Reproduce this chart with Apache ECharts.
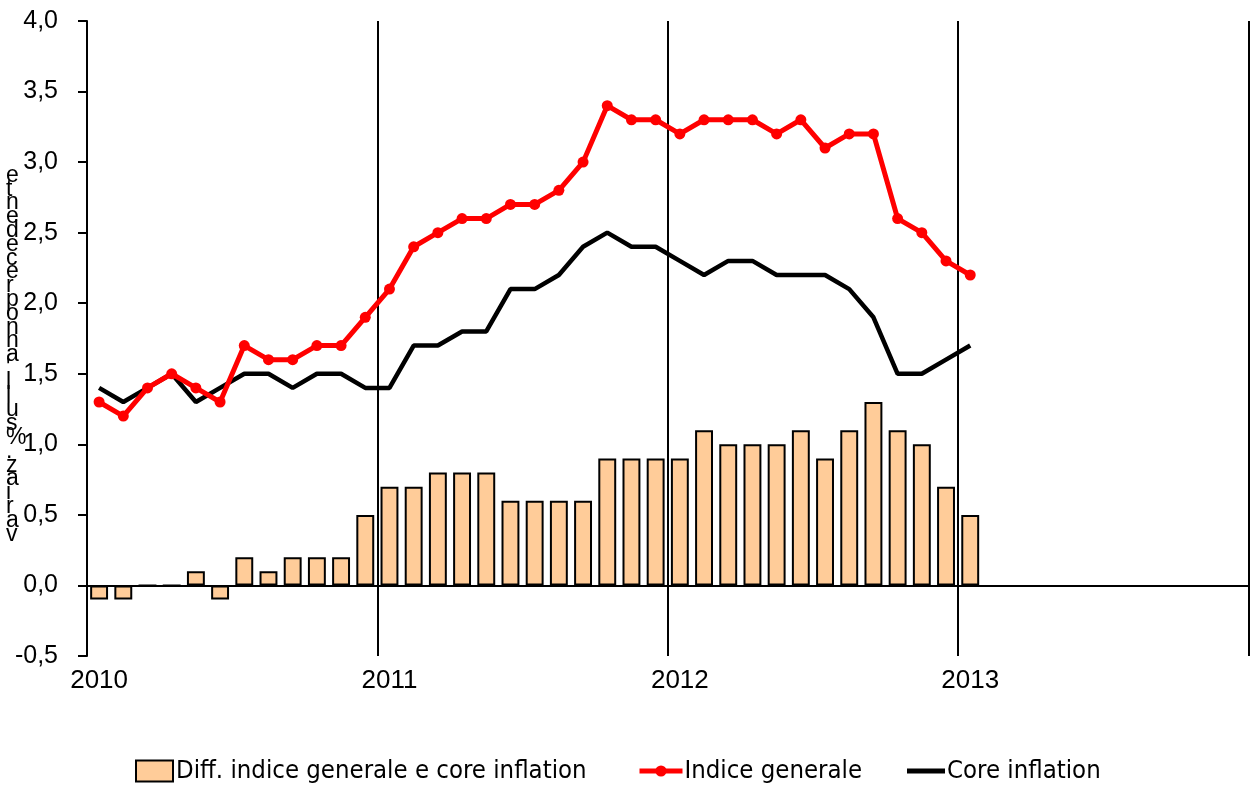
<!DOCTYPE html>
<html>
<head>
<meta charset="utf-8">
<script src="https://cdn.jsdelivr.net/npm/echarts@6/dist/echarts.min.js"></script>
<style>
html,body{margin:0;padding:0;background:#fff;}
#chart{width:1250px;height:787px;}
</style>
</head>
<body>
<div id="chart"></div>
<script>
// ---- data (monthly, Jan 2010 - Jan 2013) ----
const years = ['2010', '2011', '2012', '2013'];
const monthsPerYear = 12;
const indiceGenerale = [1.3, 1.2, 1.4, 1.5, 1.4, 1.3, 1.7, 1.6, 1.6, 1.7, 1.7, 1.9,
                        2.1, 2.4, 2.5, 2.6, 2.6, 2.7, 2.7, 2.8, 3.0, 3.4, 3.3, 3.3,
                        3.2, 3.3, 3.3, 3.3, 3.2, 3.3, 3.1, 3.2, 3.2, 2.6, 2.5, 2.3,
                        2.2];
const coreInflation = [1.4, 1.3, 1.4, 1.5, 1.3, 1.4, 1.5, 1.5, 1.4, 1.5, 1.5, 1.4,
                       1.4, 1.7, 1.7, 1.8, 1.8, 2.1, 2.1, 2.2, 2.4, 2.5, 2.4, 2.4,
                       2.3, 2.2, 2.3, 2.3, 2.2, 2.2, 2.2, 2.1, 1.9, 1.5, 1.5, 1.6,
                       1.7];
const diffValues = [-0.1, -0.1, 0.0, 0.0, 0.1, -0.1, 0.2, 0.1, 0.2, 0.2, 0.2, 0.5,
                    0.7, 0.7, 0.8, 0.8, 0.8, 0.6, 0.6, 0.6, 0.6, 0.9, 0.9, 0.9,
                    0.9, 1.1, 1.0, 1.0, 1.0, 1.1, 0.9, 1.1, 1.3, 1.1, 1.0, 0.7,
                    0.5];
const seriesNames = ['Diff. indice generale e core inflation', 'Indice generale', 'Core inflation'];
const yAxisTitle = "variaz.% sull'anno precedente";

// categories: every month of 2010..2013
const categories = [];
years.forEach(y => { for (let m = 1; m <= monthsPerYear; m++) categories.push(y + '-' + (m < 10 ? '0' + m : m)); });

const narrowFont = "'Liberation Sans Narrow', 'DejaVu Sans Condensed', 'Liberation Sans', sans-serif";
const tickFont = "'Liberation Sans', Arial, sans-serif";

const chart = echarts.init(document.getElementById('chart'), null, {renderer: 'canvas'});

// the axis title is drawn as stacked upright characters (last letter on top)
const stacked = yAxisTitle.split('').filter(c => c !== ' ').reverse().join('\n');

const legendText = {fontFamily: narrowFont, fontSize: 25.5, color: '#000'};

chart.setOption({
  animation: false,
  backgroundColor: '#ffffff',
  grid: {left: 87, right: 1.5, top: 21, bottom: 131, containLabel: false},
  xAxis: [
    {
      type: 'category',
      data: categories,
      boundaryGap: true,
      position: 'bottom',
      axisLine: {show: false, onZero: false},
      axisTick: {show: false},
      axisLabel: {
        show: true,
        interval: (i) => i % monthsPerYear === 0,
        formatter: (v) => v.slice(0, 4),
        color: '#000',
        fontFamily: tickFont,
        fontSize: 26,
        margin: 12
      },
      splitLine: {
        show: true,
        interval: (i) => i % monthsPerYear === 0,
        lineStyle: {color: '#000', width: 2}
      }
    },
    {
      type: 'category',
      data: categories,
      boundaryGap: true,
      position: 'bottom',
      axisLine: {show: true, onZero: true, lineStyle: {color: '#000', width: 2}},
      axisTick: {show: false},
      axisLabel: {show: false},
      splitLine: {show: false}
    }
  ],
  yAxis: {
    type: 'value',
    min: -0.5,
    max: 4.0,
    interval: 0.5,
    axisLine: {show: true, lineStyle: {color: '#000', width: 2}},
    axisTick: {show: true, inside: false, length: 9, lineStyle: {color: '#000', width: 2}},
    axisLabel: {
      color: '#000',
      fontFamily: tickFont,
      fontSize: 25,
      margin: 29,
      formatter: (v) => v.toFixed(1).replace('.', ',')
    },
    splitLine: {show: false}
  },
  graphic: [{
    type: 'text',
    left: 6,
    top: 164,
    style: {
      text: stacked,
      fontFamily: tickFont,
      fontSize: 23,
      lineHeight: 13.8,
      fill: '#000',
      align: 'center'
    }
  }],
  legend: [
    {
      data: [seriesNames[0]],
      left: 130, top: 753,
      icon: 'rect',
      itemWidth: 37, itemHeight: 21,
      itemStyle: {borderColor: '#000', borderWidth: 2},
      textStyle: Object.assign({padding: [0, 0, 0, -2]}, legendText),
      selectedMode: false
    },
    {
      data: [seriesNames[1]],
      left: 632, top: 753,
      itemWidth: 43, itemHeight: 14,
      lineStyle: {width: 5},
      textStyle: Object.assign({padding: [0, 0, 0, -3]}, legendText),
      selectedMode: false
    },
    {
      data: [seriesNames[2]],
      left: 902, top: 753,
      icon: 'rect',
      itemWidth: 38, itemHeight: 5,
      itemStyle: {color: '#000'},
      textStyle: Object.assign({padding: [0, 0, 0, -3]}, legendText),
      selectedMode: false
    }
  ],
  series: [
    {
      name: seriesNames[0],
      type: 'bar',
      xAxisIndex: 0,
      data: diffValues,
      barCategoryGap: '26%',
      itemStyle: {color: '#FFCC99', borderColor: '#000', borderWidth: 2},
      z: 2
    },
    {
      name: seriesNames[1],
      type: 'line',
      xAxisIndex: 0,
      data: indiceGenerale,
      symbol: 'circle',
      symbolSize: 11,
      showSymbol: true,
      itemStyle: {color: '#FF0000'},
      lineStyle: {color: '#FF0000', width: 5},
      z: 4
    },
    {
      name: seriesNames[2],
      type: 'line',
      xAxisIndex: 0,
      data: coreInflation,
      symbol: 'none',
      itemStyle: {color: '#000'},
      lineStyle: {color: '#000', width: 4.5},
      z: 3
    }
  ]
});
</script>
</body>
</html>
